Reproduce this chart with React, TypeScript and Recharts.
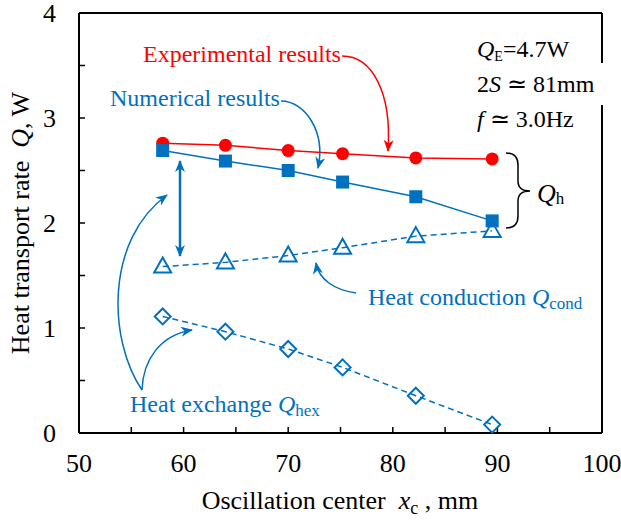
import React from "react";
import { LineChart, Line, XAxis, YAxis, ReferenceLine } from "recharts";

const xc = [58.0, 64.0, 70.0, 75.2, 82.2, 89.5];
const experimental = [2.76, 2.74, 2.69, 2.66, 2.62, 2.61];
const numerical = [2.69, 2.59, 2.5, 2.39, 2.25, 2.02];
const conduction = [1.585, 1.625, 1.69, 1.765, 1.875, 1.925];
const exchange = [1.11, 0.965, 0.8, 0.625, 0.355, 0.08];
const xTicks = [50, 55, 60, 65, 70, 75, 80, 85, 90, 95, 100];
const yTicks = [0, 0.5, 1, 1.5, 2, 2.5, 3, 3.5, 4];

const RED = "#ff0000";
const BLUE = "#0070c0";
const FONT = "'Liberation Serif', 'Times New Roman', serif";

const data = xc.map((x, i) => ({
  x,
  exp: experimental[i],
  num: numerical[i],
  cond: conduction[i],
  hex: exchange[i],
}));

const XTick = (props: any) => {
  const { x, y, payload } = props;
  if (!Number.isInteger(payload.value) || payload.value % 10 !== 0) return <g />;
  return (
    <text x={x} y={y} dy="0.71em" textAnchor="middle" fontSize={26} fontFamily={FONT} fill="#000">
      {payload.value}
    </text>
  );
};

const YTick = (props: any) => {
  const { x, y, payload } = props;
  if (!Number.isInteger(payload.value)) return <g />;
  return (
    <text x={x} y={y} dy="0.35em" textAnchor="end" fontSize={26} fontFamily={FONT} fill="#000">
      {payload.value}
    </text>
  );
};

const CircleDot = (p: any) => <circle key={`c${p.index}`} cx={p.cx} cy={p.cy} r={6.5} fill={RED} />;
const SquareDot = (p: any) => (
  <rect key={`s${p.index}`} x={p.cx - 6.5} y={p.cy - 6.5} width={13} height={13} fill={BLUE} />
);
const TriDot = (p: any) => (
  <polygon
    key={`t${p.index}`}
    points={`${p.cx},${p.cy - 9} ${p.cx + 8.5},${p.cy + 6} ${p.cx - 8.5},${p.cy + 6}`}
    fill="none"
    stroke={BLUE}
    strokeWidth={2}
  />
);
const DiaDot = (p: any) => (
  <polygon
    key={`d${p.index}`}
    points={`${p.cx},${p.cy - 8} ${p.cx + 8},${p.cy} ${p.cx},${p.cy + 8} ${p.cx - 8},${p.cy}`}
    fill="none"
    stroke={BLUE}
    strokeWidth={2}
  />
);

export default function App() {
  return (
    <div style={{ position: "absolute", left: 0, top: 0, width: 621, height: 521, background: "#fff" }}>
      <LineChart width={621} height={521} data={data} margin={{ top: 13, right: 19, left: 0, bottom: 58 }}>
        <XAxis
          dataKey="x"
          type="number"
          domain={[50, 100]}
          ticks={xTicks}
          interval={0}
          height={30}
          tickSize={-6}
          tickMargin={27}
          tick={XTick}
          axisLine={{ stroke: "#000", strokeWidth: 2 }}
          tickLine={{ stroke: "#000", strokeWidth: 1.5 }}
        />
        <YAxis
          type="number"
          domain={[0, 4]}
          ticks={yTicks}
          interval={0}
          width={79}
          tickSize={-6}
          tickMargin={29}
          tick={YTick}
          axisLine={{ stroke: "#000", strokeWidth: 2 }}
          tickLine={{ stroke: "#000", strokeWidth: 1.5 }}
        />
        <ReferenceLine y={4} stroke="#000" strokeWidth={2} />
        <ReferenceLine x={100} stroke="#000" strokeWidth={2} />
        <Line dataKey="exp" stroke={RED} strokeWidth={1.5} dot={CircleDot} isAnimationActive={false} />
        <Line dataKey="num" stroke={BLUE} strokeWidth={1.5} dot={SquareDot} isAnimationActive={false} />
        <Line
          dataKey="cond"
          stroke={BLUE}
          strokeWidth={1.5}
          strokeDasharray="6 4"
          dot={TriDot}
          isAnimationActive={false}
        />
        <Line
          dataKey="hex"
          stroke={BLUE}
          strokeWidth={1.5}
          strokeDasharray="6 4"
          dot={DiaDot}
          isAnimationActive={false}
        />
      </LineChart>
      <svg
        width={621}
        height={521}
        style={{ position: "absolute", left: 0, top: 0, pointerEvents: "none" }}
        fontFamily={FONT}
      >
        <defs>
          <marker id="hb" viewBox="0 0 12 10" refX={11} refY={5} markerWidth={12} markerHeight={10} markerUnits="userSpaceOnUse" orient="auto-start-reverse">
            <path d="M0,0 L12,5 L0,10 L3.5,5 z" fill={BLUE} />
          </marker>
          <marker id="hr" viewBox="0 0 12 10" refX={11} refY={5} markerWidth={12} markerHeight={10} markerUnits="userSpaceOnUse" orient="auto">
            <path d="M0,0 L12,5 L0,10 L3.5,5 z" fill={RED} />
          </marker>
        </defs>
        {/* gap in right border behind parameter text */}
        <rect x={596} y={63} width={12} height={42} fill="#fff" />

        {/* axis titles */}
        <text x={340} y={509} textAnchor="middle" fontSize={26} fill="#000" style={{ whiteSpace: "pre" }}>
          {"Oscillation center  "}
          <tspan fontStyle="italic">x</tspan>
          <tspan fontSize={18} dy={5}>c</tspan>
          <tspan dy={-5}>{" , mm"}</tspan>
        </text>
        <text
          transform="translate(29,223) rotate(-90)"
          textAnchor="middle"
          fontSize={26}
          fill="#000"
          style={{ whiteSpace: "pre" }}
        >
          {"Heat transport rate  "}
          <tspan fontStyle="italic">Q</tspan>
          {", W"}
        </text>

        {/* parameters */}
        <text x={477} y={57} fontSize={24} fill="#000">
          <tspan fontStyle="italic">Q</tspan>
          <tspan fontSize={14} dy={4}>E</tspan>
          <tspan dy={-4}>{"=4.7W"}</tspan>
        </text>
        <text x={477} y={92} fontSize={24} fill="#000" style={{ whiteSpace: "pre" }}>
          {"2"}
          <tspan fontStyle="italic">S</tspan>
          {" \u2243 81mm"}
        </text>
        <text x={477} y={127} fontSize={24} fill="#000" style={{ whiteSpace: "pre" }}>
          <tspan fontStyle="italic">f</tspan>
          {" \u2243 3.0Hz"}
        </text>

        {/* Q_h brace */}
        <path
          d="M506,153 Q518,153 518,165 L518,181 Q518,191 530,191 Q518,191 518,201 L518,216 Q518,228 506,228"
          fill="none"
          stroke="#000"
          strokeWidth={1.5}
        />
        <text x={537} y={202} fontSize={26} fill="#000">
          <tspan fontStyle="italic">Q</tspan>
          <tspan fontSize={17} dy={2}>h</tspan>
        </text>

        {/* Experimental results */}
        <text x={143} y={62} fontSize={24} fill={RED}>
          Experimental results
        </text>
        <path d="M342,56 C372,56 392,92 388,151" fill="none" stroke={RED} strokeWidth={1.5} markerEnd="url(#hr)" />

        {/* Numerical results */}
        <text x={110} y={106} fontSize={24} fill={BLUE}>
          Numerical results
        </text>
        <path d="M281,101 C305,101 326,132 318,168" fill="none" stroke={BLUE} strokeWidth={1.5} markerEnd="url(#hb)" />

        {/* double arrow */}
        <path d="M180,161 L180,256" fill="none" stroke={BLUE} strokeWidth={2.5} markerStart="url(#hb)" markerEnd="url(#hb)" />

        {/* Heat conduction */}
        <text x={368} y={305} fontSize={24} fill={BLUE}>
          {"Heat conduction "}
          <tspan fontStyle="italic">Q</tspan>
          <tspan fontSize={17} dy={4}>cond</tspan>
        </text>
        <path d="M356,293 C335,290 319,280 316,263" fill="none" stroke={BLUE} strokeWidth={1.5} markerEnd="url(#hb)" />

        {/* Heat exchange */}
        <text x={130} y={412} fontSize={24} fill={BLUE}>
          {"Heat exchange "}
          <tspan fontStyle="italic">Q</tspan>
          <tspan fontSize={17} dy={4}>hex</tspan>
        </text>
        <path d="M142,390 C108,340 105,240 167,195" fill="none" stroke={BLUE} strokeWidth={1.5} markerEnd="url(#hb)" />
        <path d="M142,390 C143,360 160,335 192,330" fill="none" stroke={BLUE} strokeWidth={1.5} markerEnd="url(#hb)" />
      </svg>
    </div>
  );
}
